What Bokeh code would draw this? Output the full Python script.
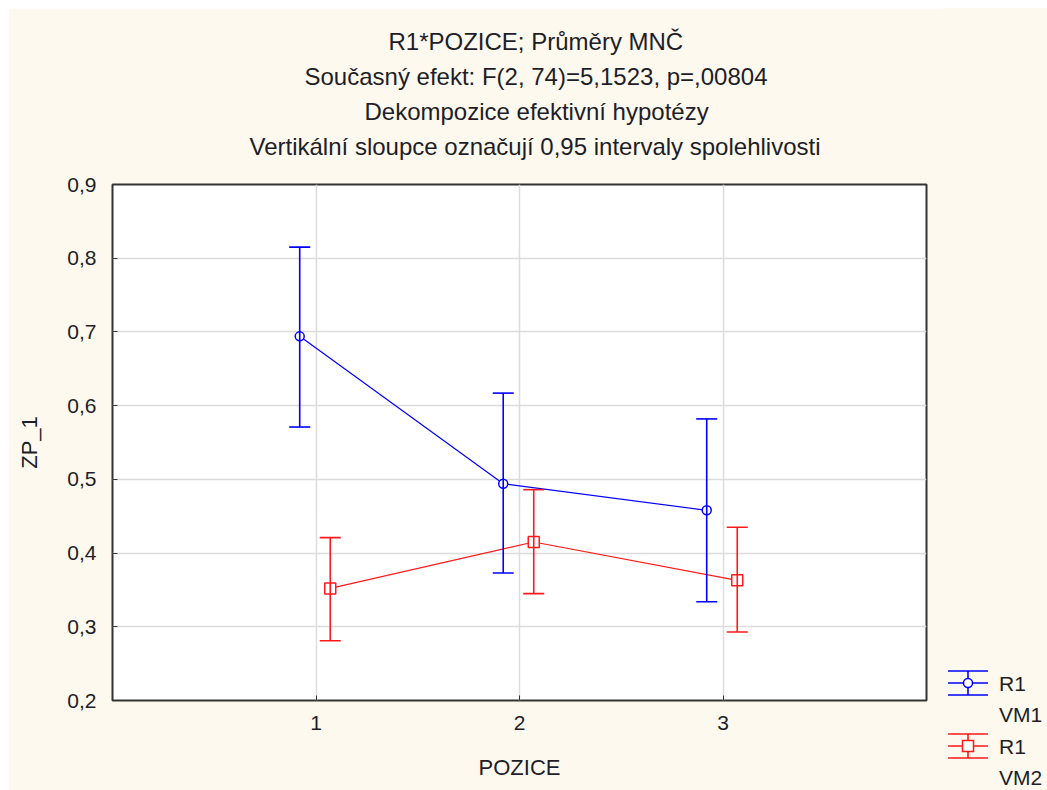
from bokeh.plotting import figure
from bokeh.layouts import row
from bokeh.models import (Title, Whisker, ColumnDataSource, FixedTicker, TeeHead, Div)
from bokeh.embed import file_html
from bokeh.resources import INLINE

# ---------------- data ----------------
title_lines = [
    "R1*POZICE; Průměry MNČ",
    "Současný efekt: F(2, 74)=5,1523, p=,00804",
    "Dekompozice efektivní hypotézy",
    "Vertikální sloupce označují 0,95 intervaly spolehlivosti",
]
positions = [1, 2, 3]
x_tick_labels = ["1", "2", "3"]
vm1_mean = [0.694, 0.494, 0.458]
vm1_upper = [0.815, 0.617, 0.582]
vm1_lower = [0.571, 0.373, 0.334]
vm2_mean = [0.352, 0.415, 0.363]
vm2_upper = [0.421, 0.486, 0.435]
vm2_lower = [0.281, 0.345, 0.293]
y_ticks = [0.2, 0.3, 0.4, 0.5, 0.6, 0.7, 0.8, 0.9]
y_tick_labels = ["0,2", "0,3", "0,4", "0,5", "0,6", "0,7", "0,8", "0,9"]
legend_labels = [("R1", "VM1"), ("R1", "VM2")]
x_label = "POZICE"
y_label = "ZP_1"

# ---------------- style ----------------
FONT = "Liberation Sans"
TXT = "#1e1e28"
BG = "#FDF9EE"
BLUE = "#0000FF"
RED = "#FF1a1a"
dodge = {"vm1": -0.08, "vm2": 0.07}
# left offsets (px from frame left) that centre each title line at ~x=535
title_offsets = [276, 192, 252, 137]

p = figure(width=935, height=782, x_range=(0, 4), y_range=(0.2, 0.9),
           output_backend="svg", toolbar_location=None, title=None,
           min_border_left=104, min_border_right=17, min_border_top=176,
           min_border_bottom=90)
p.border_fill_color = BG
p.background_fill_color = "white"
p.outline_line_color = "#333333"
p.outline_line_width = 2

# spacer between the frame and the title block
p.add_layout(Title(text=" ", text_font_size="1px", standoff=18,
                   vertical_align="middle"), "above")
for line, off in zip(reversed(title_lines), reversed(title_offsets)):
    p.add_layout(Title(text=line, align="left", offset=off,
                       vertical_align="middle",
                       text_font=FONT, text_font_size="24px",
                       text_font_style="normal", text_color=TXT,
                       standoff=6), "above")

p.xaxis.ticker = FixedTicker(ticks=positions)
p.xaxis.major_label_overrides = {t: l for t, l in zip(positions, x_tick_labels)}
p.yaxis.ticker = FixedTicker(ticks=y_ticks)
p.yaxis.major_label_overrides = {t: l for t, l in zip(y_ticks, y_tick_labels)}
p.xaxis.axis_label = x_label
p.yaxis.axis_label = y_label
for ax in p.axis:
    ax.axis_line_color = None
    ax.major_tick_in = 5
    ax.major_tick_out = 0
    ax.major_tick_line_color = "#333333"
    ax.minor_tick_line_color = None
    ax.major_label_text_font = FONT
    ax.major_label_text_font_size = "21px"
    ax.major_label_text_color = TXT
    ax.axis_label_text_font = FONT
    ax.axis_label_text_font_size = "22px"
    ax.axis_label_text_font_style = "normal"
    ax.axis_label_text_color = TXT
p.xaxis.major_label_standoff = 15
p.xaxis.axis_label_standoff = 22
p.yaxis.major_label_standoff = 16
p.yaxis.axis_label_standoff = 22

p.xgrid.ticker = FixedTicker(ticks=positions)
p.ygrid.ticker = FixedTicker(ticks=y_ticks)
p.grid.grid_line_color = "#dcdcdc"
p.grid.grid_line_width = 1.5


def series(mean, upper, lower, off, color, marker, size):
    xs = [x + off for x in positions]
    src = ColumnDataSource(dict(x=xs, mean=mean, upper=upper, lower=lower))
    p.line("x", "mean", source=src, line_color=color, line_width=1.2)
    p.add_layout(Whisker(source=src, base="x", upper="upper", lower="lower",
                         dimension="height", line_color=color, line_width=1.6,
                         upper_head=TeeHead(size=21, line_color=color, line_width=1.6),
                         lower_head=TeeHead(size=21, line_color=color, line_width=1.6),
                         level="glyph"))
    p.scatter("x", "mean", source=src, marker=marker, size=size,
              fill_color="white", line_color=color, line_width=1.5)


series(vm1_mean, vm1_upper, vm1_lower, dodge["vm1"], BLUE, "circle", 9)
series(vm2_mean, vm2_upper, vm2_lower, dodge["vm2"], RED, "square", 11)


# ---------------- legend (HTML panel to the right of the plot) ----------------
def symbol(color, marker, top):
    if marker == "circle":
        mk = f'<circle cx="20" cy="13" r="4.5" fill="white" stroke="{color}" stroke-width="1.5"/>'
    else:
        mk = f'<rect x="14.5" y="7.5" width="11" height="11" fill="white" stroke="{color}" stroke-width="1.5"/>'
    return (f'<svg width="40" height="26" style="position:absolute;left:5px;top:{top}px">'
            f'<g stroke="{color}" stroke-width="1.6">'
            '<line x1="0" y1="1" x2="40" y2="1"/>'
            '<line x1="0" y1="13" x2="40" y2="13"/>'
            '<line x1="0" y1="25" x2="40" y2="25"/>'
            '<line x1="20" y1="1" x2="20" y2="25"/></g>'
            f'{mk}</svg>')


def label(text, center):
    return (f'<span style="position:absolute;left:56px;top:{center - 10}px;'
            f'line-height:21px;white-space:nowrap">{text}</span>')


entries = [(legend_labels[0], BLUE, "circle", 675),
           (legend_labels[1], RED, "square", 738)]
html = (f'<div style="position:relative;width:104px;height:782px;background:{BG};'
        f"font-family:'{FONT}';font-size:21px;color:{TXT}\">")
for (l1, l2), color, marker, cy in entries:
    html += symbol(color, marker, cy - 13)
    html += label(l1, cy)
    html += label(l2, cy + 31)
html += "</div>"

legend_panel = Div(text=html, width=104, height=782, margin=0,
                   styles={"background-color": BG})

layout = row(p, legend_panel, spacing=0)
layout.margin = (8, 0, 0, 8)

open("out.html", "w").write(file_html(layout, INLINE))
